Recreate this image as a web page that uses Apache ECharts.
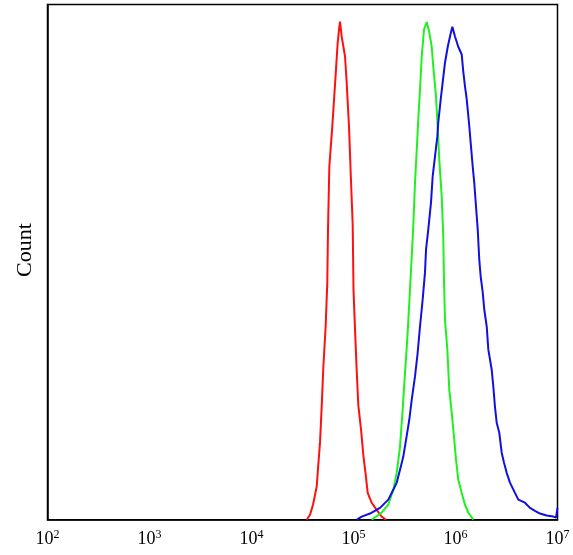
<!DOCTYPE html>
<html>
<head>
<meta charset="utf-8">
<script src="https://cdn.jsdelivr.net/npm/echarts@6/dist/echarts.min.js"></script>
<style>html,body{margin:0;padding:0;background:#fff}#c{width:573px;height:555px}</style>
</head>
<body>
<div id="c"></div>
<script>
// x values are log10 of fluorescence intensity, y values are counts (% of axis height)
const xTickExponents = [2, 3, 4, 5, 6, 7];
const yAxisLabel = 'Count';

const redX = [4.541,4.574,4.603,4.639,4.655,4.672,4.688,4.704,4.727,4.743,4.750,4.763,4.792,4.819,4.845,4.858,4.868,4.884,4.917,4.933,4.956,4.973,4.992,5.000,5.015,5.031,5.047,5.074,5.096,5.120,5.139,5.178,5.227,5.276,5.319];
const redY = [0,0.97,2.9,6.4,10.7,15.1,21.9,29.5,37.5,46.0,56.3,68.5,76.3,84.5,92.6,95.1,96.7,93.8,89.9,84.9,76.3,67.0,57.3,44.7,36.9,29.1,22.3,17.5,12.6,8.7,5.2,3.3,1.9,0.6,0];

const greenX = [5.178,5.276,5.341,5.390,5.424,5.456,5.482,5.505,5.527,5.547,5.564,5.586,5.603,5.620,5.635,5.652,5.669,5.691,5.718,5.743,5.767,5.782,5.809,5.825,5.841,5.865,5.880,5.887,5.897,5.920,5.939,5.963,5.985,6.005,6.027,6.061,6.093,6.125,6.175];
const greenY = [0,1.36,2.91,5.83,9.13,14.2,21.4,28.5,35.0,42.1,48.5,56.9,65.4,71.8,77.7,83.5,89.9,95.1,96.6,94.6,91.8,88.0,82.1,76.3,69.9,62.7,55.0,46.6,38.8,33.0,25.2,20.8,16.1,11.7,7.8,5.2,2.9,1.4,0];

const blueX = [5.034,5.080,5.162,5.260,5.341,5.390,5.424,5.456,5.488,5.515,5.547,5.571,5.603,5.629,5.652,5.678,5.701,5.711,5.733,5.760,5.776,5.799,5.822,5.831,5.855,5.875,5.897,5.924,5.946,5.969,5.995,6.027,6.061,6.076,6.093,6.110,6.132,6.152,6.169,6.184,6.201,6.218,6.233,6.247,6.267,6.282,6.306,6.322,6.355,6.371,6.387,6.404,6.429,6.453,6.475,6.502,6.534,6.583,6.616,6.681,6.730,6.779,6.828,6.894,6.959,6.985,7.000];
const blueY = [0,0.6,1.2,2.3,3.9,5.8,7.2,9.7,12.2,15.5,19.4,23.3,27.8,32.4,37.5,42.7,48.0,52.4,56.3,61.6,66.6,70.5,74.4,77.1,81.6,85.0,88.7,91.8,93.8,95.7,93.8,91.8,90.3,87.0,84.1,81.6,77.1,72.4,68.5,65.4,60.8,56.3,50.5,47.2,44.1,40.8,37.5,33.0,29.1,25.8,21.9,18.8,16.9,13.0,11.1,9.1,7.2,5.2,3.9,3.3,2.3,1.7,1.2,0.8,0.6,0.4,2.3];

function pairs(xs, ys) { return xs.map((x, i) => [x, ys[i]]); }

const chart = echarts.init(document.getElementById('c'), null, {renderer: 'canvas'});
const serif = "'Liberation Serif', 'DejaVu Serif', serif";
function mkSeries(name, xs, ys, color) {
  return {
    name: name, type: 'line', data: pairs(xs, ys), showSymbol: false, symbol: 'none',
    lineStyle: {color: color, width: 2}, animation: false, z: 3
  };
}
chart.setOption({
  animation: false,
  backgroundColor: '#fff',
  grid: {left: 47.5, right: 15.5, top: 4.5, bottom: 35.3, show: true, borderColor: '#000', borderWidth: 1.5, backgroundColor: 'transparent'},
  xAxis: {
    type: 'value', min: 2, max: 7, interval: 1,
    axisLine: {show: true, lineStyle: {color: '#000', width: 1.5}},
    axisTick: {show: false},
    splitLine: {show: false},
    axisLabel: {
      margin: 9,
      formatter: function (v) { return xTickExponents.indexOf(v) >= 0 ? '{b|10}{s|' + v + '}' : ''; },
      rich: {
        b: {fontFamily: serif, fontSize: 18, color: '#000', verticalAlign: 'bottom', lineHeight: 20},
        s: {fontFamily: serif, fontSize: 12, color: '#000', verticalAlign: 'top', lineHeight: 20, padding: [0, 0, 8, 0]}
      }
    }
  },
  yAxis: {
    type: 'value', min: 0, max: 100,
    axisLine: {show: true, lineStyle: {color: '#000', width: 1.5}},
    axisTick: {show: false}, axisLabel: {show: false}, splitLine: {show: false}
  },
  graphic: [{
    type: 'text', x: 25, y: 250, rotation: Math.PI / 2,
    style: {text: yAxisLabel, font: "22px 'Liberation Serif', serif", fill: '#000', align: 'center', verticalAlign: 'middle'}
  }],
  series: [
    mkSeries('red', redX, redY, '#ff1010'),
    mkSeries('green', greenX, greenY, '#20f020'),
    mkSeries('blue', blueX, blueY, '#1010e0')
  ]
});
</script>
</body>
</html>
